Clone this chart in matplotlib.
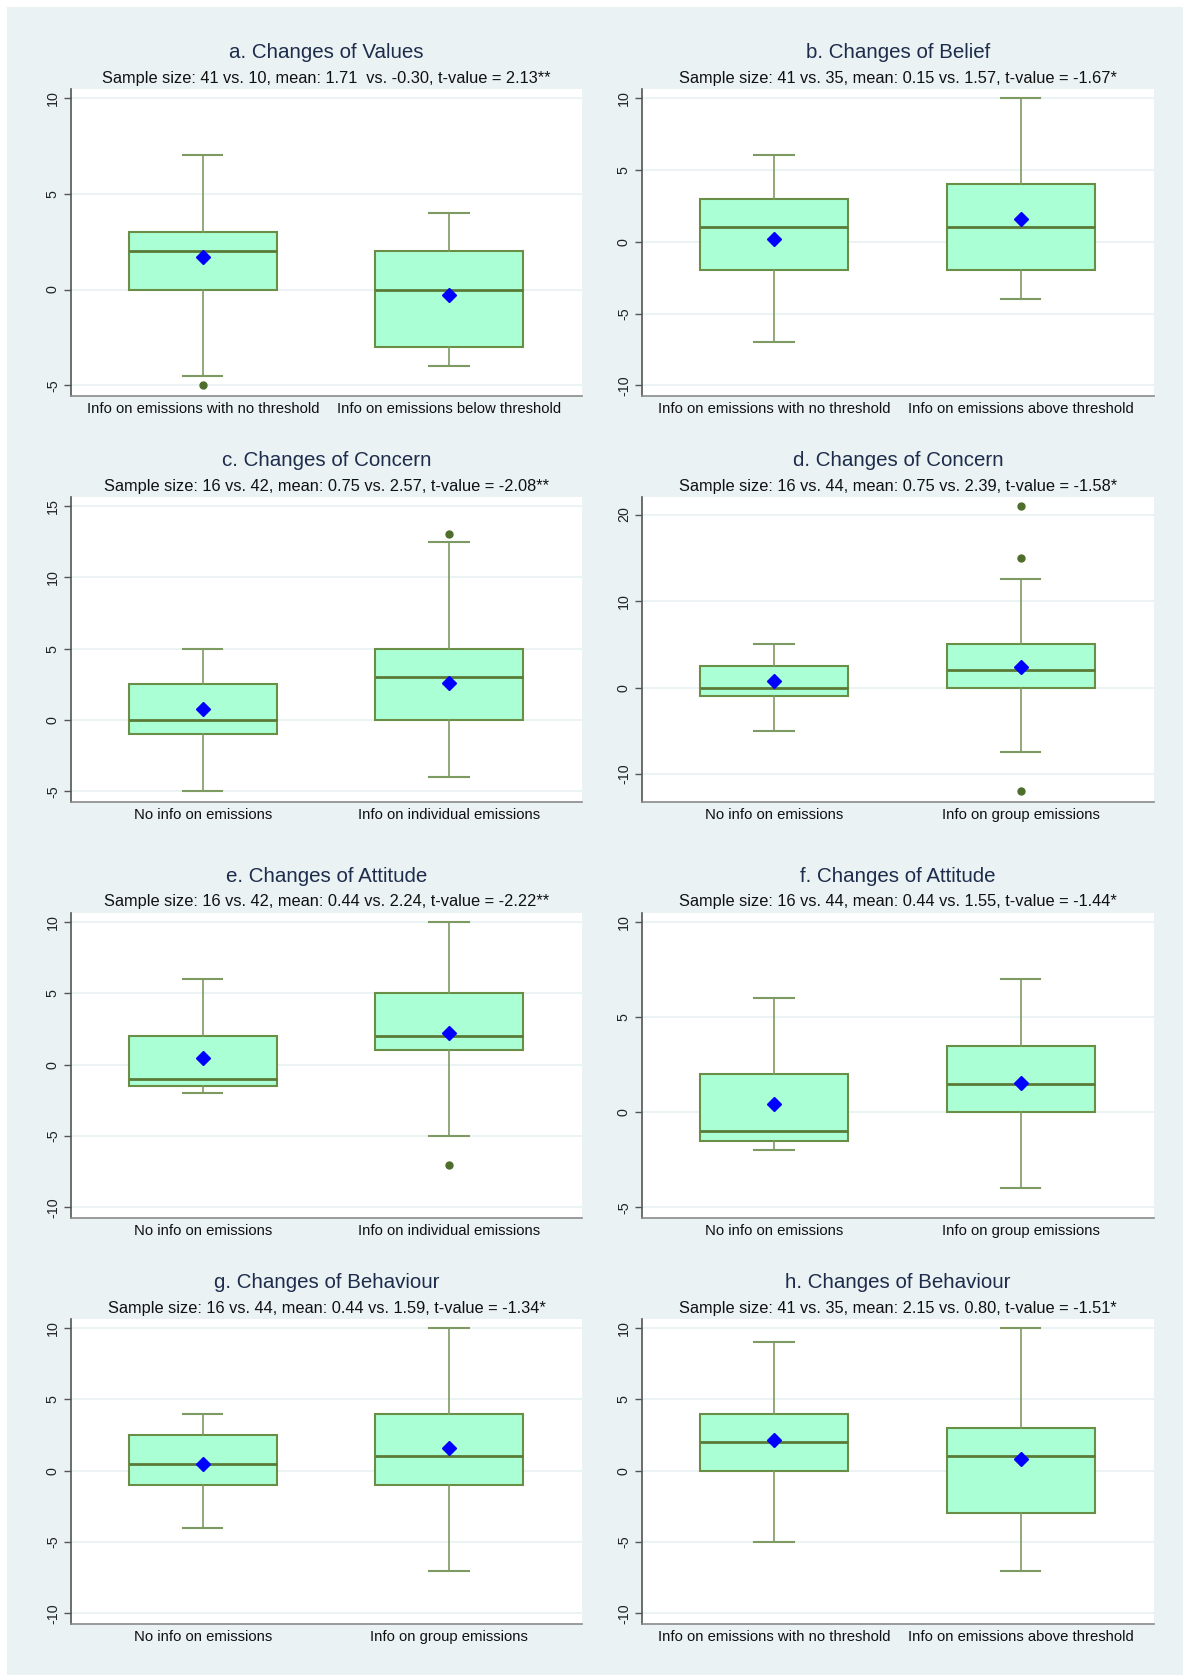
import numpy as np
import matplotlib.pyplot as plt

plt.rcParams['font.family'] = ['Liberation Sans', 'DejaVu Sans']

titles = ['a. Changes of Values', 'b. Changes of Belief',
          'c. Changes of Concern', 'd. Changes of Concern',
          'e. Changes of Attitude', 'f. Changes of Attitude',
          'g. Changes of Behaviour', 'h. Changes of Behaviour']
subtitles = [
    'Sample size: 41 vs. 10, mean: 1.71  vs. -0.30, t-value = 2.13**',
    'Sample size: 41 vs. 35, mean: 0.15 vs. 1.57, t-value = -1.67*',
    'Sample size: 16 vs. 42, mean: 0.75 vs. 2.57, t-value = -2.08**',
    'Sample size: 16 vs. 44, mean: 0.75 vs. 2.39, t-value = -1.58*',
    'Sample size: 16 vs. 42, mean: 0.44 vs. 2.24, t-value = -2.22**',
    'Sample size: 16 vs. 44, mean: 0.44 vs. 1.55, t-value = -1.44*',
    'Sample size: 16 vs. 44, mean: 0.44 vs. 1.59, t-value = -1.34*',
    'Sample size: 41 vs. 35, mean: 2.15 vs. 0.80, t-value = -1.51*',
]
group_labels = [
    ['Info on emissions with no threshold', 'Info on emissions below threshold'],
    ['Info on emissions with no threshold', 'Info on emissions above threshold'],
    ['No info on emissions', 'Info on individual emissions'],
    ['No info on emissions', 'Info on group emissions'],
    ['No info on emissions', 'Info on individual emissions'],
    ['No info on emissions', 'Info on group emissions'],
    ['No info on emissions', 'Info on group emissions'],
    ['Info on emissions with no threshold', 'Info on emissions above threshold'],
]

# box statistics, one pair (control, treatment) per panel
whis_lo = [[-4.5, -4], [-7, -4], [-5, -4], [-5, -7.5], [-2, -5], [-2, -4], [-4, -7], [-5, -7]]
q1 = [[0, -3], [-2, -2], [-1, 0], [-1, 0], [-1.5, 1], [-1.5, 0], [-1, -1], [0, -3]]
medians = [[2, 0], [1, 1], [0, 3], [0, 2], [-1, 2], [-1, 1.5], [0.5, 1], [2, 1]]
q3 = [[3, 2], [3, 4], [2.5, 5], [2.5, 5], [2, 5], [2, 3.5], [2.5, 4], [4, 3]]
whis_hi = [[7, 4], [6, 10], [5, 12.5], [5, 12.5], [6, 10], [6, 7], [4, 10], [9, 10]]
outliers = [[[-5], []], [[], []], [[], [13]], [[], [21, 15, -12]],
            [[], [-7]], [[], []], [[], []], [[], []]]
means = [[1.71, -0.30], [0.15, 1.57], [0.75, 2.57], [0.75, 2.39],
         [0.44, 2.24], [0.44, 1.55], [0.44, 1.59], [2.15, 0.80]]
yticks = [[-5, 0, 5, 10], [-10, -5, 0, 5, 10], [-5, 0, 5, 10, 15], [-10, 0, 10, 20],
          [-10, -5, 0, 5, 10], [-5, 0, 5, 10], [-10, -5, 0, 5, 10], [-10, -5, 0, 5, 10]]

W, H = 1183, 1675
BG = '#EAF2F3'
BOX_FILL = '#AAFFD5'
BOX_EDGE = '#6B8E47'
WHISKER = '#7D9A62'
TITLE_COLOR = '#1E2C4C'

fig = plt.figure(figsize=(W / 100, H / 100), dpi=100)
fig.patch.set_facecolor('white')
# graph region, leaving a thin white strip on the top and left
fig.add_artist(plt.Rectangle((7 / W, 0), 1, 1 - 7 / H, transform=fig.transFigure,
                             facecolor=BG, edgecolor='none', zorder=0))

col_left = [71, 642]
col_width = [511, 512]
row_top = [89, 497, 913, 1319]
row_height = [307, 305, 305, 305]

for i in range(8):
    r, c = divmod(i, 2)
    rect = [col_left[c] / W, 1 - (row_top[r] + row_height[r]) / H,
            col_width[c] / W, row_height[r] / H]
    ax = fig.add_axes(rect)
    ax.set_facecolor('white')

    stats = []
    for g in range(2):
        stats.append({'whislo': whis_lo[i][g], 'q1': q1[i][g], 'med': medians[i][g],
                      'q3': q3[i][g], 'whishi': whis_hi[i][g],
                      'fliers': outliers[i][g], 'mean': means[i][g]})

    ax.bxp(stats, positions=[0, 1], widths=0.60, capwidths=0.16, patch_artist=True,
           showmeans=True, showfliers=True,
           boxprops=dict(facecolor=BOX_FILL, edgecolor=BOX_EDGE, linewidth=1.5),
           medianprops=dict(color='#5A7A36', linewidth=2.0),
           whiskerprops=dict(color=WHISKER, linewidth=1.2),
           capprops=dict(color=WHISKER, linewidth=1.5),
           meanprops=dict(marker='D', markerfacecolor='#0000FF', markeredgecolor='#0000FF',
                          markersize=7.5),
           flierprops=dict(marker='o', markerfacecolor='#4F6E2C', markeredgecolor='#4F6E2C',
                           markersize=5))

    lo = min(min(yticks[i]), min(whis_lo[i]), min(sum(outliers[i], []) or [0]))
    hi = max(max(yticks[i]), max(whis_hi[i]), max(sum(outliers[i], []) or [0]))
    span = hi - lo
    ax.set_ylim(lo - 0.037 * span, hi + 0.031 * span)
    ax.set_xlim(-0.535, 1.54)

    ax.set_yticks(yticks[i])
    ax.set_yticklabels([str(t) for t in yticks[i]], rotation=90, va='center')
    ax.set_xticks([0, 1])
    ax.set_xticklabels(group_labels[i])
    ax.tick_params(axis='y', length=5, width=1, color='#555555', labelsize=10.3,
                   labelcolor='#222222', pad=3)
    ax.tick_params(axis='x', length=0, labelsize=10.7, labelcolor='#111111', pad=4)
    ax.grid(axis='y', color=BG, linewidth=1.3)
    ax.set_axisbelow(True)
    for side in ['top', 'right']:
        ax.spines[side].set_visible(False)
    ax.spines['left'].set_color('#555555')
    ax.spines['bottom'].set_color('#8A8A8A')
    ax.spines['left'].set_linewidth(1.2)
    ax.spines['bottom'].set_linewidth(1.2)

    xc = (col_left[c] + col_width[c] / 2) / W
    fig.text(xc, 1 - (row_top[r] - 36) / H, titles[i], ha='center', va='center',
             fontsize=14.8, color=TITLE_COLOR)
    fig.text(xc, 1 - (row_top[r] - 11) / H, subtitles[i], ha='center', va='center',
             fontsize=11.8, color='#111111')

fig.savefig('out.png', dpi=100, facecolor=fig.get_facecolor())
